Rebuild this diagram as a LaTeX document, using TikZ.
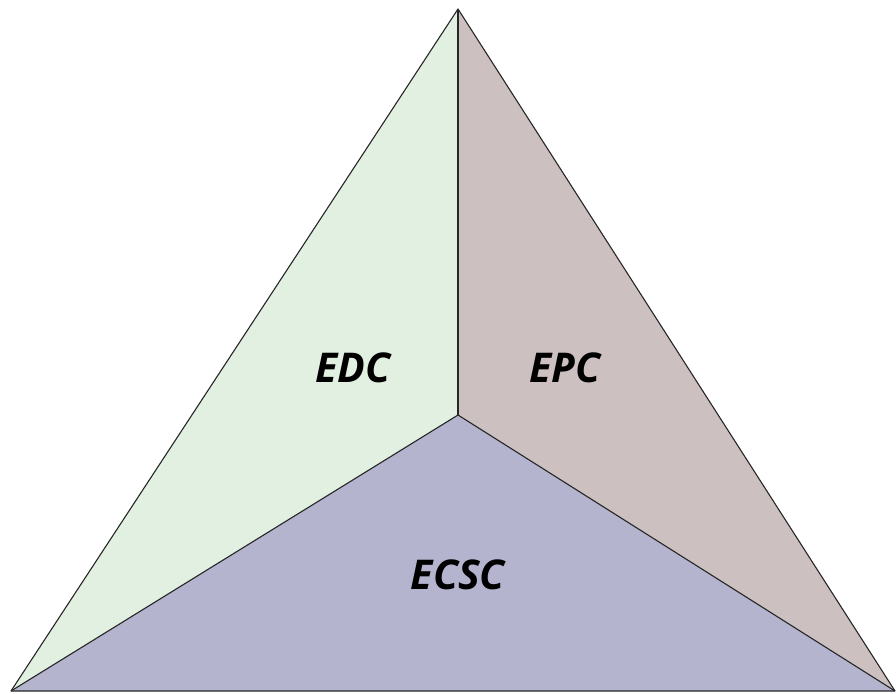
\documentclass[tikz,border=0pt]{standalone}
\usepackage{fontspec}
\setmainfont{Open Sans}
\definecolor{edcfill}{RGB}{226,240,226}
\definecolor{epcfill}{RGB}{205,192,193}
\definecolor{ecscfill}{RGB}{180,180,206}
\begin{document}
\begin{tikzpicture}[x=1pt,y=-1pt,
  face/.style={draw=black!85,line width=1.1pt,line join=round},
  facelabel/.style={font=\fontsize{41}{48}\selectfont\bfseries\itshape,inner sep=0pt}]
\useasboundingbox (0,0) rectangle (896,693);
\coordinate (top) at (458,9);
\coordinate (bl) at (11,691);
\coordinate (br) at (895,691);
\coordinate (mid) at (458,415);
\fill[edcfill] (top) -- (mid) -- (bl) -- cycle;
\fill[epcfill] (top) -- (br) -- (mid) -- cycle;
\fill[ecscfill] (mid) -- (br) -- (bl) -- cycle;
\draw[face] (top) -- (bl) -- (br) -- cycle;
\draw[face] (top) -- (mid);
\draw[face] (mid) -- (bl);
\draw[face] (mid) -- (br);
\node[facelabel] (edc) at (353,368) {EDC};
\node[facelabel] (epc) at (565,368) {EPC};
\node[facelabel] (ecsc) at (458,575) {ECSC};
\end{tikzpicture}
\end{document}
